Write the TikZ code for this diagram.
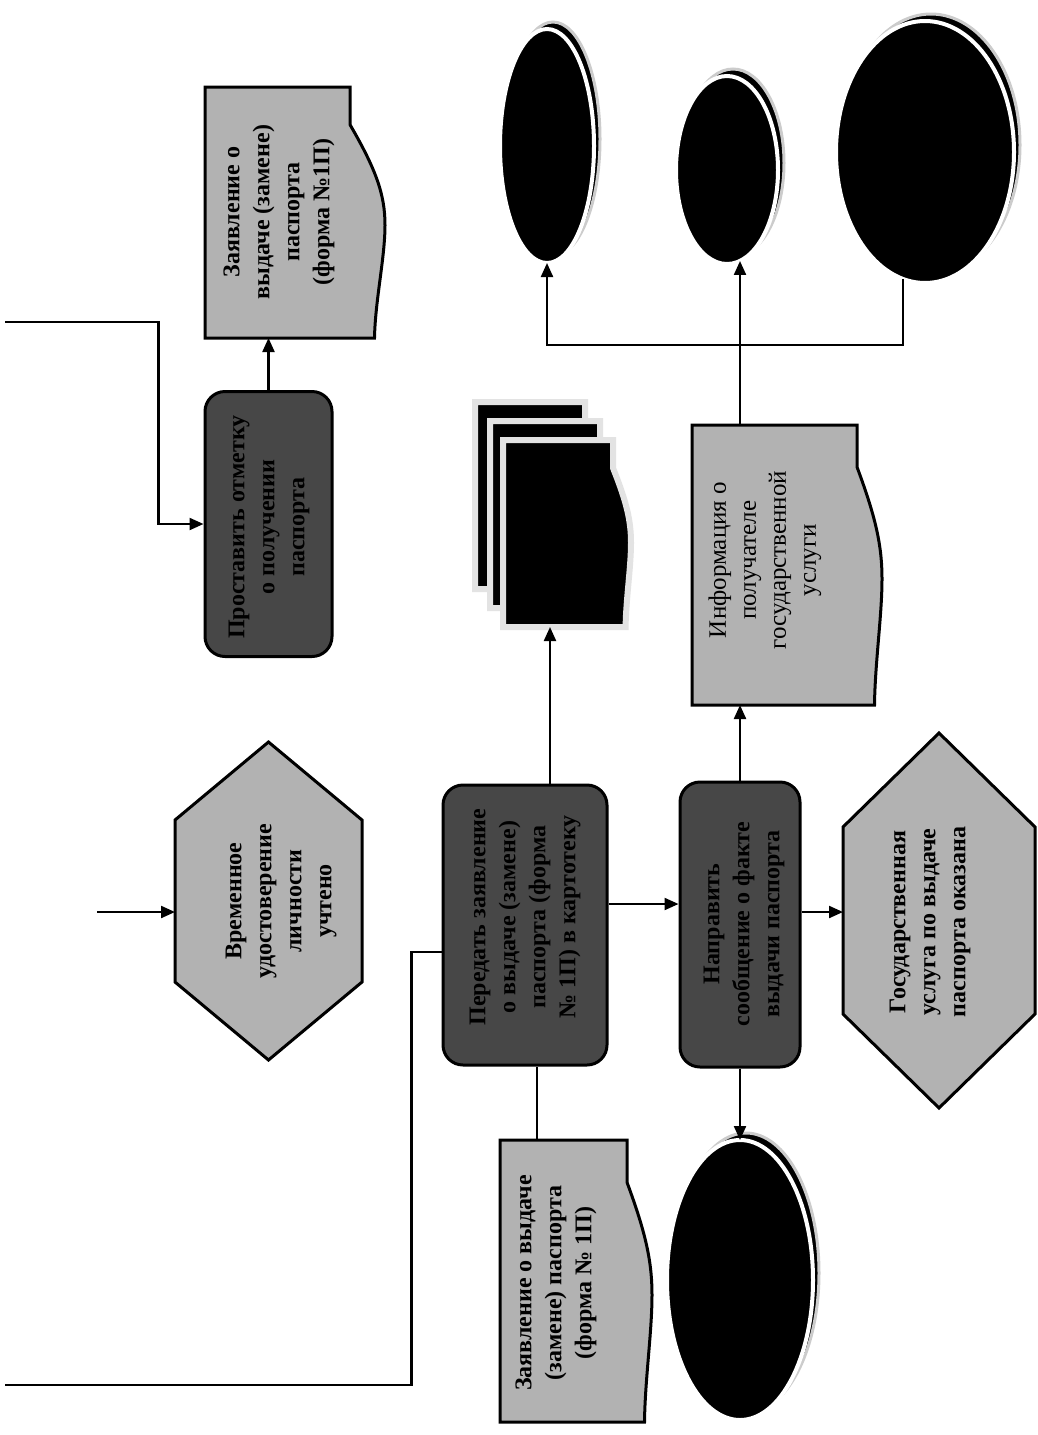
\documentclass[tikz,border=0pt]{standalone}
\usepackage{fontspec}
\setmainfont{Liberation Serif}
\usetikzlibrary{arrows.meta,calc,shapes.geometric}
\tikzset{
  conn/.style={line width=1.1pt, draw=black},
  arr/.style={conn, -{Triangle[length=7pt,width=6pt]}},
  darkbox/.style={rectangle, rounded corners=10pt, fill=black!72, draw=black, line width=1.5pt, inner sep=0pt},
  anchorbox/.style={rectangle, draw=none, inner sep=0pt, outer sep=0pt},
  lightshape/.style={fill=gray!60, draw=black, line width=1.5pt},
  txt/.style={rotate=90, align=center, font=\bfseries\fontsize{12}{15}\selectfont, inner sep=0pt},
  rtxt/.style={rotate=90, align=center, font=\fontsize{12.5}{15}\selectfont, inner sep=0pt},
  ell/.style={ellipse, inner sep=0pt, outer sep=0pt, fill=black, draw=white, line width=2pt},
  ellshadow/.style={ellipse, inner sep=0pt, outer sep=0pt, fill=black, draw=gray!40, line width=1.5pt},
  stackdoc/.style={fill=black, draw=gray!22, line width=3pt},
}
\newcommand\mydoc[3]{%
  \path[#2] (#1.north west) -- (#1.north east)
    -- ($(#1.north east)!0.15!(#1.south east)$)
    .. controls ($(#1.north east)!0.33!(#1.south east)+(0.75*#3,0)$) and ($(#1.north east)!0.43!(#1.south east)+(#3,0)$) .. ($(#1.north east)!0.55!(#1.south east)+(#3,0)$)
    .. controls ($(#1.north east)!0.68!(#1.south east)+(#3,0)$) and ($(#1.north east)!0.85!(#1.south east)+(0.72*#3,0)$) .. ($(#1.south east)+(0.7*#3,0)$)
    -- (#1.south west) -- cycle;}
\newcommand\myhex[2]{%
  \path[lightshape] (#1.north) -- ($(#1.north east)+(0,#2)$) -- ($(#1.south east)+(0,-#2)$)
    -- (#1.south) -- ($(#1.south west)+(0,-#2)$) -- ($(#1.north west)+(0,#2)$) -- cycle;}
\newcommand\myell[5]{%
  \node[ellshadow, minimum width=#4, minimum height=#5] (#1s) at (#2+6,#3-7) {};
  \node[ell, minimum width=#4, minimum height=#5] (#1) at (#2,#3) {};}
\begin{document}
\begin{tikzpicture}[x=0.5pt,y=-0.5pt]
\useasboundingbox[fill=white] (0,0) rectangle (1038,1435);

% ---------- top row ----------
\node[anchorbox, minimum width=72.5pt, minimum height=125.5pt] (doc1) at (277.5,212.5) {};
\mydoc{doc1}{lightshape}{35}
\node[txt] (doc1t) at (279,212) {Заявление о\\выдаче (замене)\\паспорта\\(форма №1П)};

\node[darkbox, minimum width=63.5pt, minimum height=132.5pt] (box1) at (268.5,524) {};
\node[txt] (box1t) at (269,527) {Проставить отметку\\о получении\\паспорта};

\coordinate (s1) at (5,322);
\draw[arr] (s1) -| ($(box1.west)+(-45,0)$) -- (box1.west);
\draw[arr] (box1.north) -- (box1.north |- doc1.south);

% ---------- hexagon 1 ----------
\node[anchorbox, minimum width=93.5pt, minimum height=159pt] (hex1) at (268.5,901) {};
\myhex{hex1}{78}
\node[txt] (hex1t) at (281,901) {Временное\\удостоверение\\личности\\учтено};
\coordinate (s2) at (97,912);
\draw[arr] (s2) -- (s2 -| hex1.west);

% ---------- box 2 ----------
\node[darkbox, minimum width=82pt, minimum height=140pt] (box2) at (525,925) {};
\node[txt] (box2t) at (525,917) {Передать заявление\\о выдаче (замене)\\паспорта (форма\\№ 1П) в картотеку};
\coordinate (s3) at (5,1385);
\draw[conn] (s3) -| ($(box2.west)+(-30,27)$) -- ($(box2.west)+(0,27)$);

% ---------- stacked documents ----------
\node[anchorbox, minimum width=55pt, minimum height=93.5pt] (stkB) at (530,495.5) {};
\node[anchorbox, minimum width=55pt, minimum height=93.5pt] (stkM) at (545,514.5) {};
\node[anchorbox, minimum width=55pt, minimum height=93.5pt] (stkF) at (558,533.5) {};
\mydoc{stkB}{stackdoc}{18}
\mydoc{stkM}{stackdoc}{18}
\mydoc{stkF}{stackdoc}{18}
\draw[arr] ([xshift=-4pt]stkF.south |- box2.north) -- ([xshift=-4pt]stkF.south);

% ---------- box 3 ----------
\node[darkbox, minimum width=60pt, minimum height=142.5pt] (box3) at (740,924.5) {};
\node[txt] (box3t) at (744,924) {Направить\\сообщение о факте\\выдачи паспорта};
\draw[arr] ([yshift=10.5pt]box2.east) coordinate (t1) -- (t1 -| box3.west);

% ---------- hexagon 2 ----------
\node[anchorbox, minimum width=96pt, minimum height=187.5pt] (hex2) at (939,920.5) {};
\myhex{hex2}{94}
\node[txt] (hex2t) at (930,922) {Государственная\\услуга по выдаче\\паспорта оказана};
\draw[arr] ([yshift=6.25pt]box3.east) coordinate (t2) -- (t2 -| hex2.west);

% ---------- document 3 ----------
\node[anchorbox, minimum width=82.5pt, minimum height=140pt] (doc3) at (774.5,565) {};
\mydoc{doc3}{lightshape}{25}
\node[rtxt] (doc3t) at (765,560) {Информация о\\получателе\\государственной\\услуги};
\draw[arr] (box3.north) -- (box3.north |- doc3.south);

% ---------- ellipses ----------
\myell{ellA}{547}{146}{47pt}{117pt}
\myell{ellB}{727}{170}{51pt}{94pt}
\myell{ellC}{925}{152}{89pt}{131pt}
\coordinate (brY) at (0,345);
\draw[arr] (box3.north |- doc3.north) -- (box3.north |- ellB.278);
\draw[arr] (ellC.260) |- (ellA.south |- brY) -- (ellA.south);

% ---------- bottom row ----------
\node[anchorbox, minimum width=63.5pt, minimum height=141pt] (doc2) at (563.5,1281) {};
\mydoc{doc2}{lightshape}{25}
\node[txt] (doc2t) at (556,1283) {Заявление о выдаче\\(замене) паспорта\\(форма № 1П)};
\draw[conn] ([xshift=-13.25pt]doc2.north) -- ([xshift=-13.25pt]doc2.north |- box2.south);

\myell{ellD}{740}{1280}{73pt}{140pt}
\draw[arr] (box3.south) -- (ellD.north);
\end{tikzpicture}
\end{document}
